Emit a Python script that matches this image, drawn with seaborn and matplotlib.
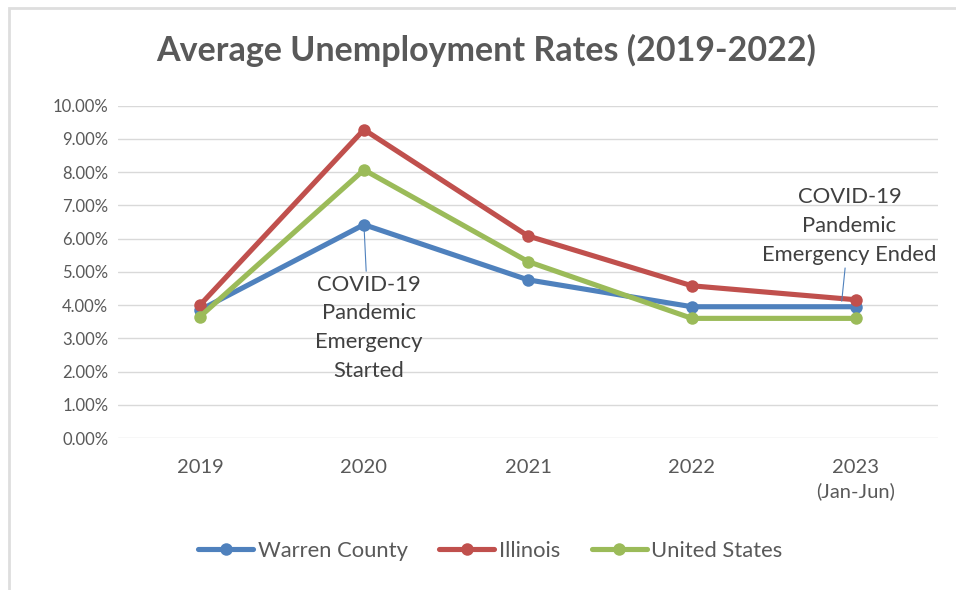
import matplotlib
matplotlib.use("Agg")
import matplotlib.pyplot as plt
import pandas as pd
import seaborn as sns
from matplotlib.patches import Rectangle
from matplotlib.ticker import PercentFormatter

# Данные (проценты).
YEARS = ["2019", "2020", "2021", "2022", "2023\n(Jan-Jun)"]
WARREN = [3.85, 6.42, 4.76, 3.95, 3.95]
ILLINOIS = [4.00, 9.28, 6.08, 4.58, 4.16]
USA = [3.65, 8.07, 5.31, 3.60, 3.60]
SERIES = ["Warren County", "Illinois", "United States"]
PALETTE = {"Warren County": "#4F81BD", "Illinois": "#C0504D", "United States": "#9BBB59"}
TEXT = "#595959"

df = pd.DataFrame({
    "year": YEARS * 3,
    "rate": WARREN + ILLINOIS + USA,
    "series": sum([[s] * len(YEARS) for s in SERIES], []),
})

sns.set_theme(style="white")
plt.rcParams["font.family"] = ["Lato", "DejaVu Sans"]

fig = plt.figure(figsize=(9.56, 5.9), dpi=100)
ax = fig.add_axes([0.1234, 0.2576, 0.8577, 0.5633])

sns.lineplot(data=df, x="year", y="rate", hue="series", hue_order=SERIES,
             palette=PALETTE, marker="o", markersize=9, markeredgewidth=0,
             linewidth=3.7, sort=False, ax=ax)

ax.set_ylim(0, 10)
ax.set_xlim(-0.5, 4.5)
ax.set_yticks([i for i in range(11)])
ax.yaxis.set_major_formatter(PercentFormatter(decimals=2))
ax.grid(axis="y", color="#D9D9D9", lw=1)
ax.set_axisbelow(True)
for s in ax.spines.values():
    s.set_visible(False)
ax.tick_params(axis="y", length=0, labelsize=12, colors=TEXT, pad=7)
ax.tick_params(axis="x", length=0, labelsize=14.5, colors=TEXT, pad=15)
for lab in ax.get_xticklabels():
    lab.set_linespacing(1.45)
ax.set_xlabel("")
ax.set_ylabel("")

fig.text(0.509, 0.915, "Average Unemployment Rates (2019-2022)", ha="center",
         va="center", fontsize=24.5, fontweight="bold", color=TEXT)

ann_kw = dict(ha="center", va="top", fontsize=15.8, color="#404040",
              linespacing=1.55,
              arrowprops=dict(arrowstyle="-", color="#4F81BD", lw=0.8,
                              shrinkA=0, shrinkB=4))
ax.annotate("COVID-19\nPandemic\nEmergency\nStarted", xy=(1.0, WARREN[1]),
            xytext=(1.03, 4.92), **ann_kw)
ax.annotate("COVID-19\nPandemic\nEmergency Ended", xy=(3.91, WARREN[4]),
            xytext=(3.96, 7.55), **ann_kw)

handles, labels = ax.get_legend_handles_labels()
ax.legend(handles, labels, loc="center", bbox_to_anchor=(0.454, -0.34),
          ncol=3, frameon=False, fontsize=15.8, labelcolor=TEXT,
          handlelength=2.5, columnspacing=1.45, handletextpad=0.2)

fig.patches.append(Rectangle((0.009, -0.01), 1.2, 0.997, transform=fig.transFigure,
                             fill=False, edgecolor="#DEDEDE", lw=2))

fig.savefig("out.png", dpi=100)
